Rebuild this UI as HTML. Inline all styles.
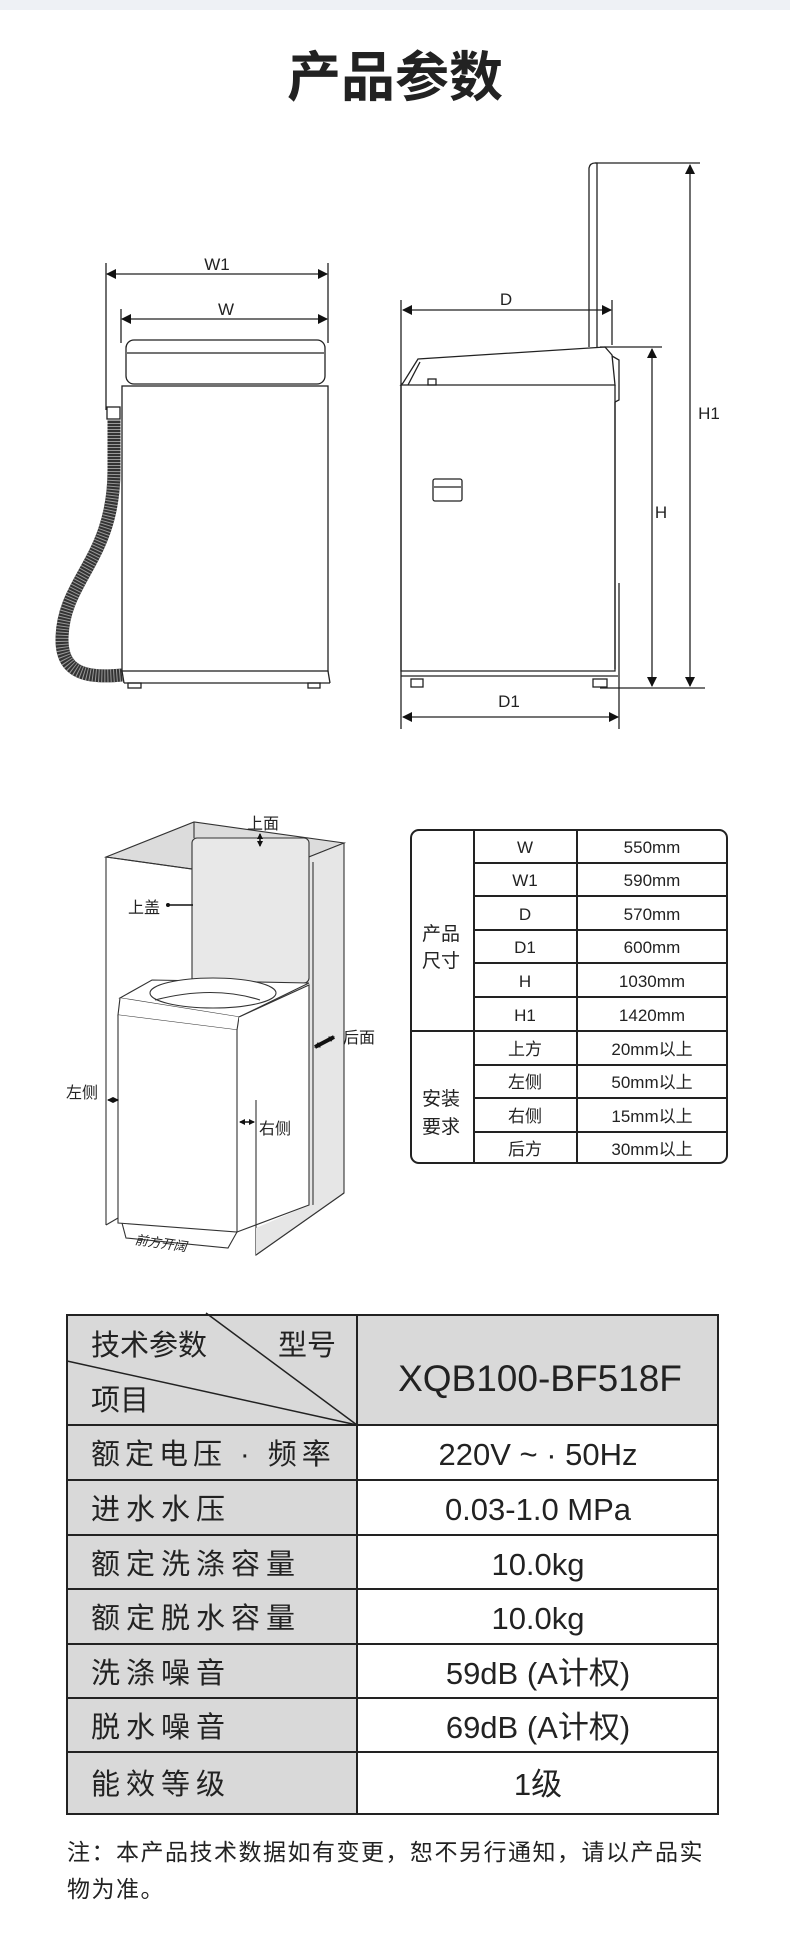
<!DOCTYPE html>
<html><head><meta charset="utf-8"><style>
html,body{margin:0;padding:0;background:#fff}
svg{display:block}
text{font-family:"Liberation Sans","Noto Sans CJK SC",sans-serif;fill:#222}
</style></head><body>
<svg width="790" height="1946" viewBox="0 0 790 1946" xmlns="http://www.w3.org/2000/svg">
<defs>
<marker id="a" markerWidth="10" markerHeight="10" refX="9" refY="5" orient="auto-start-reverse" markerUnits="userSpaceOnUse"><path d="M0,0 L10,5 L0,10Z" fill="#111"/></marker>
<marker id="s" markerWidth="6" markerHeight="6" refX="5" refY="3" orient="auto-start-reverse" markerUnits="userSpaceOnUse"><path d="M0,0 L6,3 L0,6Z" fill="#111"/></marker>
</defs>
<rect x="0" y="0" width="790" height="10" fill="#eef1f5"/>
<text x="395" y="96" font-size="54" font-weight="bold" text-anchor="middle" fill="#222">产品参数</text>

<!-- front view -->
<g stroke="#222" stroke-width="1.3" fill="none">
<line x1="106" y1="263" x2="106" y2="410"/>
<line x1="121" y1="309" x2="121" y2="343"/>
<line x1="328" y1="263" x2="328" y2="343"/>
<line x1="107" y1="274" x2="327" y2="274" marker-start="url(#a)" marker-end="url(#a)"/>
<line x1="122" y1="319" x2="327" y2="319" marker-start="url(#a)" marker-end="url(#a)"/>
<rect x="126" y="340" width="199" height="44" rx="8"/>
<line x1="127" y1="353" x2="324" y2="353"/>
<rect x="122" y="386" width="206" height="285"/>
<line x1="124" y1="683" x2="330" y2="683"/>
<line x1="122" y1="671" x2="124" y2="683"/><line x1="328" y1="671" x2="330" y2="683"/>
<rect x="128" y="683" width="13" height="5"/><rect x="308" y="683" width="12" height="5"/>
<rect x="107" y="407" width="13" height="12"/>
<path d="M114,420 L114,470 C114,560 62,580 62,640 C62,676 92,678 122,675" stroke="#333" stroke-width="13"/>
<path d="M114,420 L114,470 C114,560 62,580 62,640 C62,676 92,678 122,675" stroke="#999" stroke-width="13" stroke-dasharray="1 2"/>
</g>
<text x="217" y="270" font-size="17" text-anchor="middle">W1</text>
<text x="226" y="315" font-size="17" text-anchor="middle">W</text>

<!-- side view -->
<g stroke="#222" stroke-width="1.3" fill="none">
<line x1="401" y1="300" x2="401" y2="729"/>
<line x1="612" y1="300" x2="612" y2="345"/>
<line x1="619" y1="583" x2="619" y2="729"/>
<line x1="403" y1="310" x2="611" y2="310" marker-start="url(#a)" marker-end="url(#a)"/>
<line x1="403" y1="717" x2="618" y2="717" marker-start="url(#a)" marker-end="url(#a)"/>
<path d="M589,347 L589,168 Q590,163 595,163 L597,163 L597,347"/>
<line x1="595" y1="163" x2="700" y2="163"/>
<line x1="600" y1="347" x2="662" y2="347"/>
<line x1="600" y1="688" x2="705" y2="688"/>
<line x1="690" y1="165" x2="690" y2="686" marker-start="url(#a)" marker-end="url(#a)"/>
<line x1="652" y1="349" x2="652" y2="686" marker-start="url(#a)" marker-end="url(#a)"/>
<path d="M401,385 L403,383 L418,359 L605,347 L612,355 L615,385 Z"/>
<line x1="408" y1="385" x2="420" y2="362"/>
<rect x="428" y="379" width="8" height="6"/>
<path d="M401,385 L401,671 L615,671 L615,385"/>
<path d="M612,356 L619,360 L619,400 L615,402"/>
<line x1="615" y1="402" x2="615" y2="669"/>
<line x1="401" y1="676" x2="618" y2="676"/>
<rect x="411" y="679" width="12" height="8"/><rect x="593" y="679" width="14" height="8"/>
<rect x="433" y="479" width="29" height="22" rx="2"/>
<line x1="434" y1="487" x2="461" y2="487"/>
</g>
<text x="506" y="305" font-size="17" text-anchor="middle">D</text>
<text x="709" y="419" font-size="17" text-anchor="middle">H1</text>
<text x="661" y="518" font-size="17" text-anchor="middle">H</text>
<text x="509" y="707" font-size="17" text-anchor="middle">D1</text>

<!-- 3D clearance drawing -->
<g stroke="#333" stroke-width="1.1">
<polygon points="106,857 194,822 344,843 256,878" fill="#dcdcdc"/>
<polygon points="256,878 344,843 344,1193 256,1255" fill="#e6e6e6"/>
<line x1="106" y1="857" x2="106" y2="1225" fill="none"/>
<line x1="256" y1="878" x2="106" y2="857"/>
<line x1="194" y1="822" x2="194" y2="838" fill="none"/>
<rect x="192" y="838" width="117" height="145" rx="5" fill="#e8e8e8"/>
<polygon points="120,998 152,980 309,983 309,1205 256,1228 239,1232 237,1030 239,1017" fill="#fff" stroke="none"/>
<path d="M120,998 L152,980 L309,983 L239,1017 Z" fill="#fff"/>
<path d="M120,998 L118,1015 L237,1030 L239,1017" fill="#fff"/>
<ellipse cx="213" cy="993" rx="63" ry="15" fill="#fff"/>
<path d="M155,1000 Q213,985 260,1000" fill="none"/>
<path d="M239,1017 L309,985 L309,1205 L237,1232" fill="#fff"/>
<path d="M118,1015 L118,1223 L237,1232 L237,1030" fill="#fff"/>
<path d="M122,1223 L126,1238 L228,1248 L237,1232" fill="none"/>
<line x1="256" y1="1100" x2="256" y2="1255"/>
<line x1="313" y1="862" x2="313" y2="1205" fill="none"/>
<polygon points="256,1228 313,1205 344,1193 256,1255" fill="#e6e6e6" stroke="none"/>
<line x1="256" y1="1255" x2="344" y2="1193"/>
<line x1="106" y1="1225" x2="118" y2="1218"/>
</g>
<g stroke="#111" stroke-width="1.5" fill="none">
<line x1="260" y1="834" x2="260" y2="846" marker-start="url(#s)" marker-end="url(#s)"/>
<line x1="168" y1="905" x2="193" y2="905"/>
<line x1="108" y1="1100" x2="118" y2="1100" marker-start="url(#s)" marker-end="url(#s)"/>
<line x1="240" y1="1122" x2="254" y2="1122" marker-start="url(#s)" marker-end="url(#s)"/>
<line x1="315" y1="1047" x2="334" y2="1037" stroke-width="4" marker-start="url(#s)" marker-end="url(#s)"/>
</g>
<circle cx="168" cy="905" r="2" fill="#111"/>
<text x="263" y="829" font-size="16" text-anchor="middle">上面</text>
<text x="128" y="913" font-size="16" text-anchor="start">上盖</text>
<text x="343" y="1043" font-size="16">后面</text>
<text x="66" y="1098" font-size="16">左侧</text>
<text x="259" y="1134" font-size="16">右侧</text>
<text x="135" y="1248" font-size="13" font-style="italic" fill="#555" transform="rotate(8 163 1242)">前方开阔</text>

<!-- install table -->
<g stroke="#222" stroke-width="2" fill="none">
<rect x="411" y="830" width="316" height="333" rx="8"/>
<line x1="474" y1="830" x2="474" y2="1163"/>
<line x1="577" y1="830" x2="577" y2="1163"/>
<line x1="474" y1="863" x2="727" y2="863"/>
<line x1="474" y1="896" x2="727" y2="896"/>
<line x1="474" y1="930" x2="727" y2="930"/>
<line x1="474" y1="963" x2="727" y2="963"/>
<line x1="474" y1="997" x2="727" y2="997"/>
<line x1="411" y1="1031" x2="727" y2="1031"/>
<line x1="474" y1="1065" x2="727" y2="1065"/>
<line x1="474" y1="1098" x2="727" y2="1098"/>
<line x1="474" y1="1132" x2="727" y2="1132"/>
</g>
<g font-size="17" text-anchor="middle" fill="#222">
<text x="441" y="940" font-size="19">产品</text>
<text x="441" y="967" font-size="19">尺寸</text>
<text x="441" y="1105" font-size="19">安装</text>
<text x="441" y="1133" font-size="19">要求</text>
<text x="525" y="853">W</text><text x="652" y="853">550mm</text>
<text x="525" y="886">W1</text><text x="652" y="886">590mm</text>
<text x="525" y="920">D</text><text x="652" y="920">570mm</text>
<text x="525" y="953">D1</text><text x="652" y="953">600mm</text>
<text x="525" y="987">H</text><text x="652" y="987">1030mm</text>
<text x="525" y="1021">H1</text><text x="652" y="1021">1420mm</text>
<text x="525" y="1055">上方</text><text x="652" y="1055">20mm以上</text>
<text x="525" y="1088">左侧</text><text x="652" y="1088">50mm以上</text>
<text x="525" y="1122">右侧</text><text x="652" y="1122">15mm以上</text>
<text x="525" y="1155">后方</text><text x="652" y="1155">30mm以上</text>
</g>

<!-- spec table -->
<rect x="67" y="1315" width="290" height="499" fill="#d9d9d9"/>
<rect x="357" y="1315" width="361" height="110" fill="#d9d9d9"/>
<g stroke="#222" stroke-width="2" fill="none">
<rect x="67" y="1315" width="651" height="499"/>
<line x1="357" y1="1315" x2="357" y2="1814"/>
<line x1="67" y1="1425" x2="718" y2="1425"/>
<line x1="67" y1="1480" x2="718" y2="1480"/>
<line x1="67" y1="1535" x2="718" y2="1535"/>
<line x1="67" y1="1589" x2="718" y2="1589"/>
<line x1="67" y1="1644" x2="718" y2="1644"/>
<line x1="67" y1="1698" x2="718" y2="1698"/>
<line x1="67" y1="1752" x2="718" y2="1752"/>
<line x1="206" y1="1313" x2="357" y2="1425" stroke-width="1.5"/>
<line x1="67" y1="1361" x2="357" y2="1425" stroke-width="1.5"/>
</g>
<g font-size="29" fill="#222">
<text x="91" y="1355">技术参数</text>
<text x="278" y="1355">型号</text>
<text x="91" y="1410">项目</text>
<text x="91" y="1464" letter-spacing="5">额定电压 · 频率</text>
<text x="91" y="1519" letter-spacing="6">进水水压</text>
<text x="91" y="1574" letter-spacing="6">额定洗涤容量</text>
<text x="91" y="1628" letter-spacing="6">额定脱水容量</text>
<text x="91" y="1683" letter-spacing="6">洗涤噪音</text>
<text x="91" y="1737" letter-spacing="6">脱水噪音</text>
<text x="91" y="1794" letter-spacing="6">能效等级</text>
</g>
<g font-size="31" fill="#333" text-anchor="middle">
<text x="540" y="1391" font-size="37">XQB100-BF518F</text>
<text x="538" y="1465">220V ~ · 50Hz</text>
<text x="538" y="1520">0.03-1.0 MPa</text>
<text x="538" y="1575">10.0kg</text>
<text x="538" y="1629">10.0kg</text>
<text x="538" y="1684">59dB (A计权)</text>
<text x="538" y="1738">69dB (A计权)</text>
<text x="538" y="1795">1级</text>
</g>
<text x="67" y="1860" font-size="23" fill="#333" letter-spacing="1.5">注：本产品技术数据如有变更，恕不另行通知，请以产品实</text>
<text x="67" y="1897" font-size="23" fill="#333" letter-spacing="1.5">物为准。</text>
</svg>
</body></html>
